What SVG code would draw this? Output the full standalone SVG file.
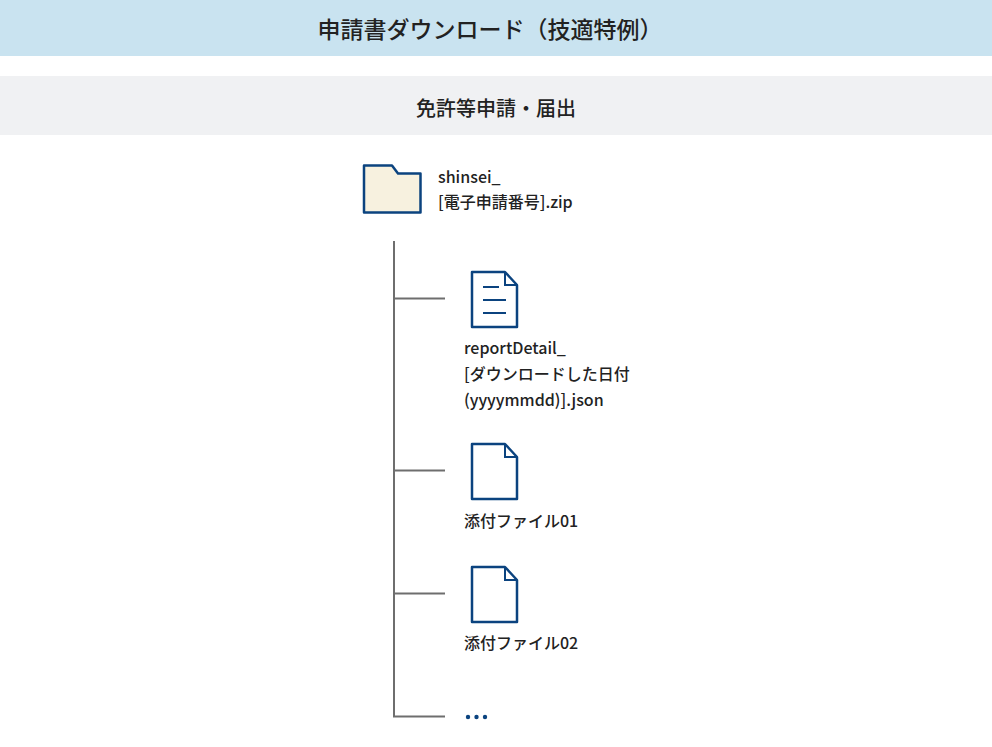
<svg xmlns="http://www.w3.org/2000/svg" width="992" height="747" viewBox="0 0 992 747">
<style>
text{font-family:"Noto Sans CJK JP","Noto Sans",sans-serif;fill:#222;font-weight:500;font-size:16px}
.h1{font-size:23px;font-weight:500;text-anchor:middle}
.h2{font-size:20px;text-anchor:middle}
.ic{fill:#fff;stroke:#0b437f;stroke-width:2.5;stroke-linejoin:round}
.ln{fill:none;stroke:#0b437f;stroke-width:2}
.c{stroke:#6e6e6e;stroke-width:2;fill:none}
</style>
<rect width="992" height="56" fill="#c9e3f0"/>
<rect y="76" width="992" height="59" fill="#f0f1f3"/>
<text class="h1" x="490" y="38">申請書ダウンロード（技適特例）</text>
<text class="h2" x="496" y="116">免許等申請・届出</text>
<g id="connectors" class="c">
<path class="c" d="M394 241V716.500H445"/>
<path class="c" d="M394 298.500H445M394 470.500H445M394 593.500H445"/>
</g>
<g id="zip">
<path d="M364 165.500H392L398 173.500H420.500V212.500H364Z" fill="#f7f1df" stroke="#0b437f" stroke-width="2.500" stroke-linejoin="round"/>
<text x="438" y="183">shinsei_</text>
<text x="438" y="208">[電子申請番号].zip</text>
</g>
<g id="report">
<path class="ic" d="M472 272H505L517 285V327H472Z"/>
<path class="ln" d="M505 272V285H517M483 287H499M483 300H506M483 313H506"/>
<text x="464" y="354">reportDetail_</text>
<text x="464" y="380">[ダウンロードした日付</text>
<text x="464" y="406">(yyyymmdd)].json</text>
</g>
<g id="file01">
<path class="ic" d="M472 444H505L517 457V499H472Z"/>
<path class="ln" d="M505 444V457H517"/>
<text x="464" y="527">添付ファイル01</text>
</g>
<g id="file02">
<path class="ic" d="M472 567H505L517 580V622H472Z"/>
<path class="ln" d="M505 567V580H517"/>
<text x="464" y="649">添付ファイル02</text>
</g>
<g id="more" fill="#0b437f">
<circle cx="468" cy="717" r="2.200"/><circle cx="476.500" cy="717" r="2.200"/><circle cx="485" cy="717" r="2.200"/>
</g>
</svg>
